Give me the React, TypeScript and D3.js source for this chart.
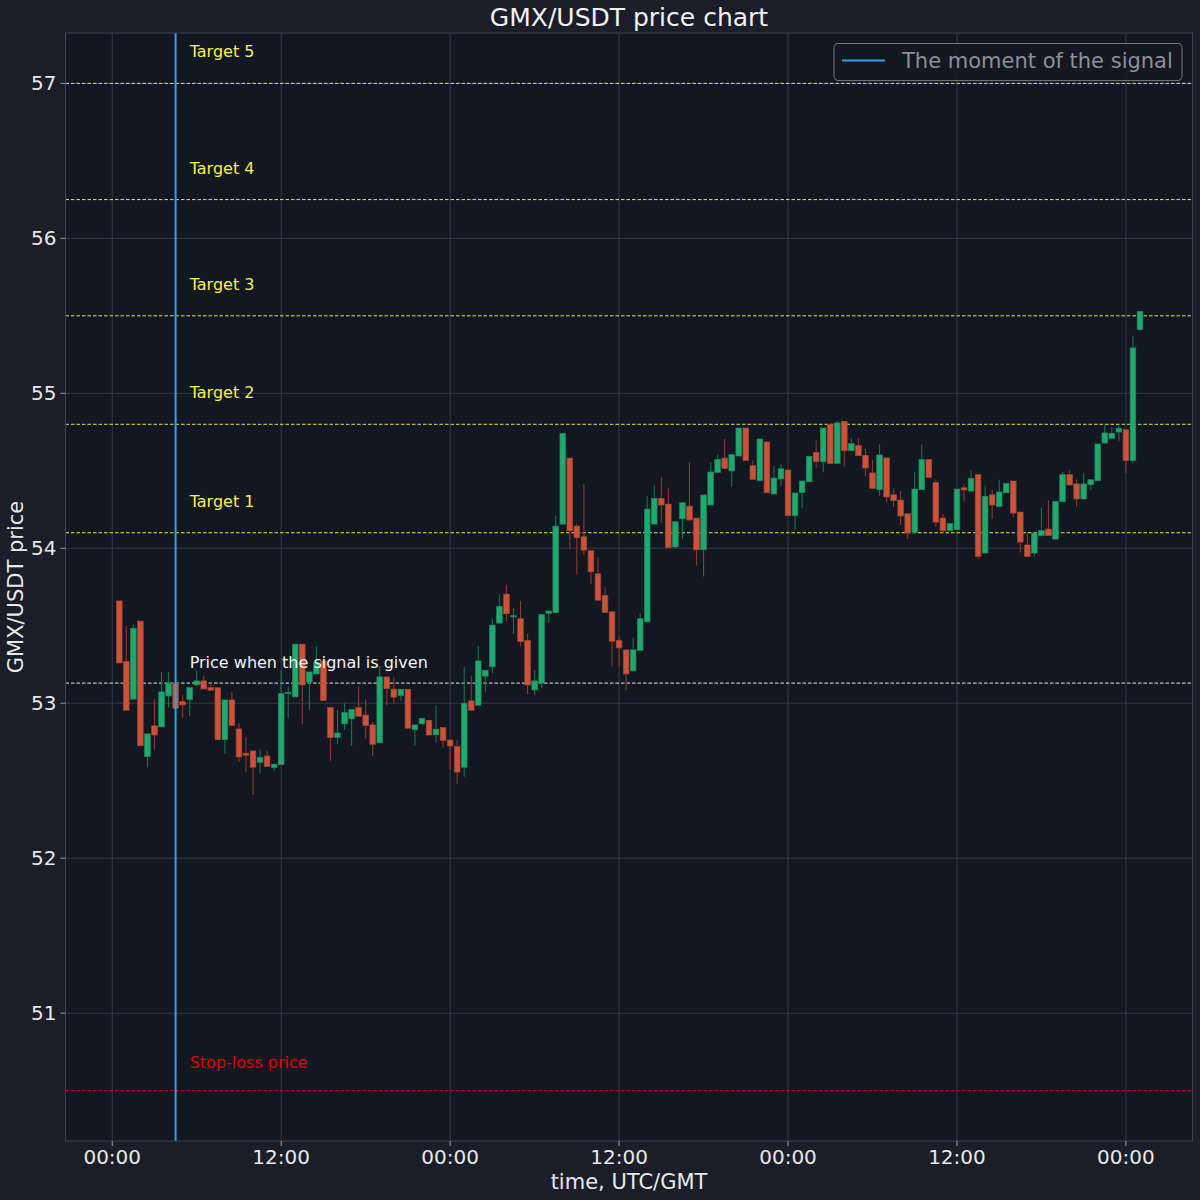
import React from "react";
import * as d3 from "d3";

// ---- data (30-minute candles, first one at 00:30 UTC) ----
const opens = [53.66,53.27,53.026,53.53,52.655,52.854,52.847,53.047,53.127,53.01,53.023,53.118,53.144,53.101,53.1,52.765,53.021,52.834,52.677,52.692,52.619,52.66,52.585,52.604,53.063,53.041,53.381,53.136,53.189,53.273,52.972,52.78,52.867,52.899,52.972,52.923,52.86,52.744,53.17,53.091,53.05,53.09,52.83,52.867,52.89,52.798,52.843,52.763,52.722,52.587,53.015,52.987,53.175,53.235,53.517,53.704,53.56,53.545,53.405,53.086,53.129,53.58,53.585,54.156,54.582,54.143,54.074,53.984,53.835,53.695,53.59,53.405,53.344,53.209,53.34,53.525,54.156,54.322,54.285,54.008,54.19,54.272,54.195,53.99,54.279,54.49,54.582,54.499,54.595,54.776,54.533,54.436,54.686,54.35,54.447,54.505,54.21,54.36,54.429,54.617,54.559,54.798,54.548,54.819,54.63,54.662,54.599,54.486,54.378,54.583,54.345,54.311,54.223,54.102,54.378,54.572,54.423,54.195,54.115,54.12,54.39,54.369,54.475,53.969,54.345,54.27,54.358,54.434,54.234,54.021,53.969,54.081,54.124,54.059,54.302,54.475,54.415,54.318,54.41,54.436,54.679,54.71,54.75,54.765,54.567,55.411];
const highs = [53.66,53.5,53.51,53.53,52.802,53.028,53.202,53.2,53.127,53.054,53.101,53.211,53.176,53.13,53.1,53.021,53.073,52.871,52.781,52.692,52.703,52.694,52.607,53.213,53.107,53.381,53.381,53.202,53.37,53.302,52.972,52.957,53.0,52.959,53.107,53.026,52.88,53.241,53.17,53.168,53.09,53.09,52.86,52.903,52.89,52.983,52.843,52.763,52.763,53.233,53.179,53.37,53.213,53.545,53.704,53.764,53.614,53.661,53.45,53.213,53.572,53.595,54.212,54.741,54.582,54.16,54.415,53.984,53.943,53.749,53.59,53.431,53.344,53.422,53.581,54.335,54.406,54.462,54.391,54.171,54.294,54.554,54.195,54.344,54.554,54.604,54.705,54.604,54.776,54.776,54.567,54.705,54.686,54.533,54.54,54.505,54.356,54.434,54.593,54.696,54.776,54.798,54.82,54.819,54.712,54.71,54.641,54.572,54.67,54.583,54.386,54.37,54.223,54.492,54.67,54.572,54.443,54.22,54.16,54.382,54.413,54.502,54.475,54.404,54.378,54.442,54.425,54.434,54.234,54.102,54.098,54.263,54.311,54.302,54.492,54.502,54.442,54.486,54.442,54.673,54.798,54.78,54.79,54.765,55.372,55.529];
const lows = [53.26,52.955,53.026,52.72,52.587,52.699,52.847,52.972,52.968,52.907,52.918,53.118,53.092,53.084,52.765,52.675,52.856,52.62,52.558,52.408,52.548,52.591,52.565,52.604,52.907,53.041,52.867,52.957,53.189,53.017,52.629,52.737,52.828,52.726,52.916,52.77,52.66,52.744,52.989,53.0,53.017,52.839,52.727,52.867,52.795,52.748,52.713,52.569,52.479,52.526,52.955,52.987,53.069,53.194,53.517,53.528,53.448,53.366,53.058,53.052,53.097,53.517,53.585,54.156,53.997,53.829,53.956,53.769,53.665,53.585,53.237,53.237,53.086,53.209,53.34,53.525,54.156,54.167,54.005,54.0,54.061,54.182,53.887,53.818,54.279,54.49,54.515,54.399,54.595,54.567,54.444,54.436,54.358,54.35,54.4,54.21,54.119,54.26,54.429,54.518,54.49,54.548,54.548,54.528,54.63,54.597,54.464,54.386,54.339,54.296,54.266,54.15,54.059,54.102,54.378,54.457,54.141,54.1,54.115,54.12,54.3,54.369,53.93,53.969,54.189,54.27,54.358,54.201,53.973,53.947,53.947,54.081,54.081,54.059,54.302,54.408,54.27,54.318,54.378,54.436,54.679,54.71,54.69,54.486,54.55,55.411];
const closes = [53.26,52.955,53.484,52.726,52.802,52.795,53.073,53.131,52.968,52.989,53.101,53.144,53.092,53.084,52.765,53.021,52.856,52.653,52.664,52.587,52.651,52.591,52.607,53.062,53.07,53.381,53.118,53.202,53.262,53.017,52.778,52.808,52.94,52.959,52.916,52.856,52.735,53.17,53.094,53.039,53.09,52.839,52.86,52.903,52.795,52.832,52.759,52.724,52.556,53.0,52.955,53.273,53.213,53.504,53.624,53.577,53.565,53.398,53.118,53.144,53.572,53.595,54.143,54.741,54.113,54.068,53.988,53.848,53.665,53.585,53.4,53.357,53.189,53.344,53.545,54.253,54.322,54.279,54.005,54.171,54.294,54.182,53.99,54.344,54.492,54.572,54.515,54.604,54.776,54.567,54.444,54.705,54.358,54.453,54.513,54.21,54.356,54.434,54.593,54.559,54.776,54.548,54.809,54.63,54.675,54.597,54.518,54.386,54.602,54.331,54.307,54.208,54.098,54.382,54.572,54.457,54.169,54.113,54.16,54.382,54.376,54.451,53.947,54.335,54.279,54.363,54.417,54.227,54.04,53.947,54.098,54.115,54.081,54.302,54.475,54.408,54.318,54.415,54.442,54.673,54.744,54.742,54.774,54.567,55.293,55.529];

const levelNames = ["Target 5", "Target 4", "Target 3", "Target 2", "Target 1", "Price when the signal is given", "Stop-loss price"];
const levelValues = [57.0, 56.25, 55.5, 54.8, 54.1, 53.13, 50.5];
const levelKinds = ["target", "target", "target", "target", "target", "entry", "stop"];

const yTicks = [51, 52, 53, 54, 55, 56, 57];
const signalHour = 4.5;
const titleText = "GMX/USDT price chart";
const xLabel = "time, UTC/GMT";
const yLabel = "GMX/USDT price";
const legendLabel = "The moment of the signal";

const HOUR = 3600 * 1000;
const t0 = Date.UTC(2023, 4, 1, 0, 0);

export default function App() {
  const W = 1200, H = 1200;
  const left = 65.5, right = 1192.5, top = 33, bottom = 1141;
  const font = "DejaVu Sans, sans-serif";

  const x = d3.scaleUtc()
    .domain([new Date(t0 - 3.32 * HOUR), new Date(t0 + 76.73 * HOUR)])
    .range([left, right]);
  const y = d3.scaleLinear().domain([50.175, 57.325]).range([bottom, top]);

  const candles = opens.map((o, i) => ({
    t: new Date(t0 + (i + 1) * 0.5 * HOUR),
    o, h: highs[i], l: lows[i], c: closes[i],
  }));
  const step = x(new Date(t0 + 0.5 * HOUR)) - x(new Date(t0));
  const bw = step * 0.8;

  const xTicks = d3.range(0, 73, 12).map((h) => new Date(t0 + h * HOUR));
  const fmt = d3.utcFormat("%H:%M");
  const sigX = x(new Date(t0 + signalHour * HOUR));
  const labelX = x(new Date(t0 + (signalHour + 1) * HOUR));

  const green = "#22a86f", red = "#c9533b";
  const greenEdge = "#1a8a5a", redEdge = "#a8432f";
  const gridColor = "#363a46";
  const tickColor = "#e8e8e8";

  const levelColor = (k: string) => (k === "target" ? "#e5e54d" : k === "entry" ? "#e6e6e6" : "#c81010");
  const labelColor = (k: string) => (k === "target" ? "#f2f24a" : k === "entry" ? "#f4f4f4" : "#e00000");
  const labelOffset = (k: string) => (k === "target" ? 26 : k === "entry" ? 15 : 23);

  return (
    <svg width={W} height={H} style={{ display: "block", position: "absolute", left: 0, top: 0 }} fontFamily={font}>
      <rect x={0} y={0} width={W} height={H} fill="#1b1e28" />
      <rect x={left} y={top} width={right - left} height={bottom - top} fill="#131722" />
      {/* grid */}
      {xTicks.map((t, i) => (
        <line key={"gx" + i} x1={x(t)} x2={x(t)} y1={top} y2={bottom} stroke={gridColor} strokeWidth={1} />
      ))}
      {yTicks.map((v, i) => (
        <line key={"gy" + i} x1={left} x2={right} y1={y(v)} y2={y(v)} stroke={gridColor} strokeWidth={1} />
      ))}
      {/* level lines */}
      {levelValues.map((v, i) => (
        <line key={"lv" + i} x1={left} x2={right} y1={y(v)} y2={y(v)} stroke={levelColor(levelKinds[i])} strokeWidth={1} strokeDasharray="3.5,2" />
      ))}
      {/* candles */}
      {candles.map((d, i) => {
        const up = d.c >= d.o;
        const cx = x(d.t);
        const y1 = y(Math.max(d.o, d.c));
        const y2 = y(Math.min(d.o, d.c));
        return (
          <g key={"c" + i}>
            <line x1={cx} x2={cx} y1={y(d.h)} y2={y(d.l)} stroke={up ? "#17744c" : "#8a3a2b"} strokeWidth={1.1} />
            <rect x={cx - bw / 2} y={y1} width={bw} height={Math.max(1.2, y2 - y1)} fill={up ? green : red} stroke={up ? greenEdge : redEdge} strokeWidth={0.7} />
          </g>
        );
      })}
      {/* level labels */}
      {levelValues.map((v, i) => (
        <text key={"lt" + i} x={labelX} y={y(v) - labelOffset(levelKinds[i])} fill={labelColor(levelKinds[i])} fontSize={16}>{levelNames[i]}</text>
      ))}
      {/* signal line */}
      <line x1={sigX} x2={sigX} y1={top} y2={bottom} stroke="#29a6e3" strokeWidth={2} />
      {/* spines */}
      <rect x={left} y={top} width={right - left} height={bottom - top} fill="none" stroke="#3f4350" strokeWidth={1} />
      {/* ticks */}
      {xTicks.map((t, i) => (
        <g key={"xt" + i}>
          <line x1={x(t)} x2={x(t)} y1={bottom} y2={bottom + 5} stroke="#9a9da5" />
          <text x={x(t)} y={bottom + 23} textAnchor="middle" fill={tickColor} fontSize={20}>{fmt(t)}</text>
        </g>
      ))}
      {yTicks.map((v, i) => (
        <g key={"yt" + i}>
          <line x1={left - 5} x2={left} y1={y(v)} y2={y(v)} stroke="#9a9da5" />
          <text x={left - 9} y={y(v) + 7} textAnchor="end" fill={tickColor} fontSize={20}>{v}</text>
        </g>
      ))}
      {/* labels */}
      <text x={(left + right) / 2} y={26} textAnchor="middle" fill="#f2f2f2" fontSize={25}>{titleText}</text>
      <text x={(left + right) / 2} y={1189} textAnchor="middle" fill={tickColor} fontSize={21}>{xLabel}</text>
      <text transform={`translate(23, ${(top + bottom) / 2}) rotate(-90)`} textAnchor="middle" fill={tickColor} fontSize={21}>{yLabel}</text>
      {/* legend */}
      <g>
        <rect x={834} y={43.5} width={348} height={37} rx={4} fill="#131722" fillOpacity={0.85} stroke="#70747d" strokeWidth={1} />
        <line x1={842} x2={885} y1={60.5} y2={60.5} stroke="#29a6e3" strokeWidth={2} />
        <text x={902} y={68} fill="#8c8f97" fontSize={21}>{legendLabel}</text>
      </g>
    </svg>
  );
}
